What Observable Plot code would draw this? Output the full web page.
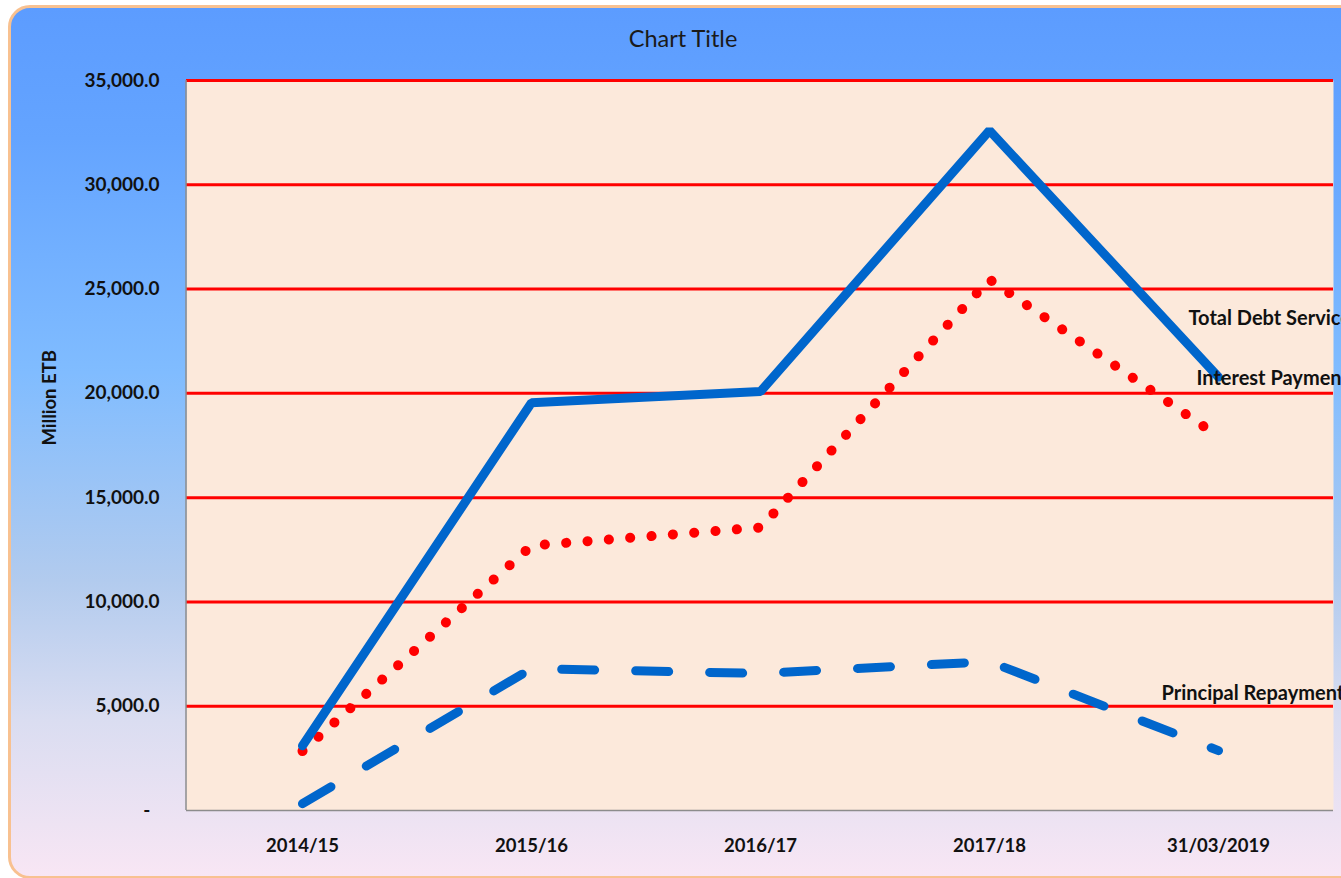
<!DOCTYPE html>
<html>
<head>
<meta charset="utf-8">
<script src="https://cdn.jsdelivr.net/npm/d3@7"></script>
<script src="https://cdn.jsdelivr.net/npm/@observablehq/plot@0.6"></script>
<style>
  html, body { margin: 0; padding: 0; background: #ffffff; overflow: hidden; }
  #wrap { position: relative; width: 1341px; height: 878px; overflow: hidden; }
  #box {
    position: absolute; left: 8px; top: 5px; width: 1360px; height: 868px;
    border: 3px solid #F8C190; border-radius: 22px;
    background: linear-gradient(to bottom, #5C9CFF 0%, #64A4FF 15%, #80BCFF 42%, #B2CBEE 66%, #DADDF1 82%, #F8E6F4 100%);
  }
  #title {
    position: absolute; left: 0; width: 1366px; top: 24px; text-align: center;
    font-family: Lato, "Open Sans", sans-serif; font-size: 23.5px; color: #1a1a1a;
  }
  #chart { position: absolute; left: 0; top: 0; }
  #chart svg { background: transparent !important; }
</style>
</head>
<body>
<div id="wrap">
  <div id="box"></div>
  <div id="title">Chart Title</div>
  <div id="chart"></div>
</div>
<script>
const periods = ["2014/15", "2015/16", "2016/17", "2017/18", "31/03/2019"];
const totalDebtService = [3100, 19550, 20090, 32600, 20780];
const interestPayment = [2850, 12700, 13570, 25460, 17930];
const principalRepayment = [330, 6800, 6570, 7140, 2870];
const yTicks = [0, 5000, 10000, 15000, 20000, 25000, 30000, 35000];
const seriesNames = ["Total Debt Service", "Interest Payment", "Principal Repayment"];

const rows = (vals, name) => periods.map((p, i) => ({period: p, value: vals[i], series: name}));
const total = rows(totalDebtService, seriesNames[0]);
const interest = rows(interestPayment, seriesNames[1]);
const principal = rows(principalRepayment, seriesNames[2]);

const fmt = v => v === 0 ? "-\u00a0\u00a0" : d3.format(",.1f")(v);
const font = "Lato, 'Open Sans', sans-serif";

// left axis line (grey), drawn along the frame's left edge
const leftEdge = (index, scales, values, dims) => {
  const x = dims.marginLeft;
  return d3.create("svg:line")
    .attr("x1", x).attr("x2", x)
    .attr("y1", dims.marginTop).attr("y2", dims.height - dims.marginBottom)
    .attr("stroke", "#8c8c8c").attr("stroke-width", 1.5).node();
};

const plot = Plot.plot({
  width: 1341,
  height: 878,
  marginLeft: 186,
  marginRight: 8,
  marginTop: 80,
  marginBottom: 68,
  style: {fontFamily: font, fontSize: "19px", fontWeight: "bold", color: "#111", background: "transparent", overflow: "visible"},
  x: {type: "point", domain: periods, padding: 0.5, label: null},
  y: {domain: [0, 35000], label: null},
  marks: [
    Plot.frame({fill: "#FCE9DB", stroke: null}),
    Plot.ruleY(yTicks.filter(d => d > 0), {stroke: "#FF0000", strokeWidth: 3}),
    Plot.ruleY([0], {stroke: "#8c8c8c", strokeWidth: 1.5}),
    leftEdge,
    Plot.axisY({ticks: yTicks, tickFormat: fmt, tickSize: 0, tickPadding: 27, label: null, fontSize: 19, fontWeight: "bold"}),
    Plot.axisX({tickSize: 0, tickPadding: 28, label: null, fontSize: 18.5, fontWeight: "bold"}),
    Plot.text(["Million ETB"], {frameAnchor: "left", dx: -136, rotate: -90, fontSize: 18.5, fontWeight: "bold", fill: "#111"}),
    Plot.line(principal, {x: "period", y: "value", stroke: "#0066CC", strokeWidth: 9, strokeLinecap: "round", strokeDasharray: "33,41"}),
    Plot.line(interest, {x: "period", y: "value", stroke: "#FF0000", strokeWidth: 10, strokeLinecap: "round", strokeDasharray: "0.1,21.3"}),
    Plot.line(total, {x: "period", y: "value", stroke: "#0066CC", strokeWidth: 9, strokeLinecap: "round", strokeLinejoin: "miter"}),
    Plot.text([total[4]], {x: "period", y: "value", text: "series", textAnchor: "start", dx: -30, dy: -58, fontSize: 20, fontWeight: "bold", fill: "#111"}),
    Plot.text([interest[4]], {x: "period", y: "value", text: "series", textAnchor: "start", dx: -22, dy: -58, fontSize: 20, fontWeight: "bold", fill: "#111"}),
    Plot.text([principal[4]], {x: "period", y: "value", text: "series", textAnchor: "start", dx: -57, dy: -57, fontSize: 20, fontWeight: "bold", fill: "#111"})
  ]
});
document.getElementById("chart").appendChild(plot);
</script>
</body>
</html>
